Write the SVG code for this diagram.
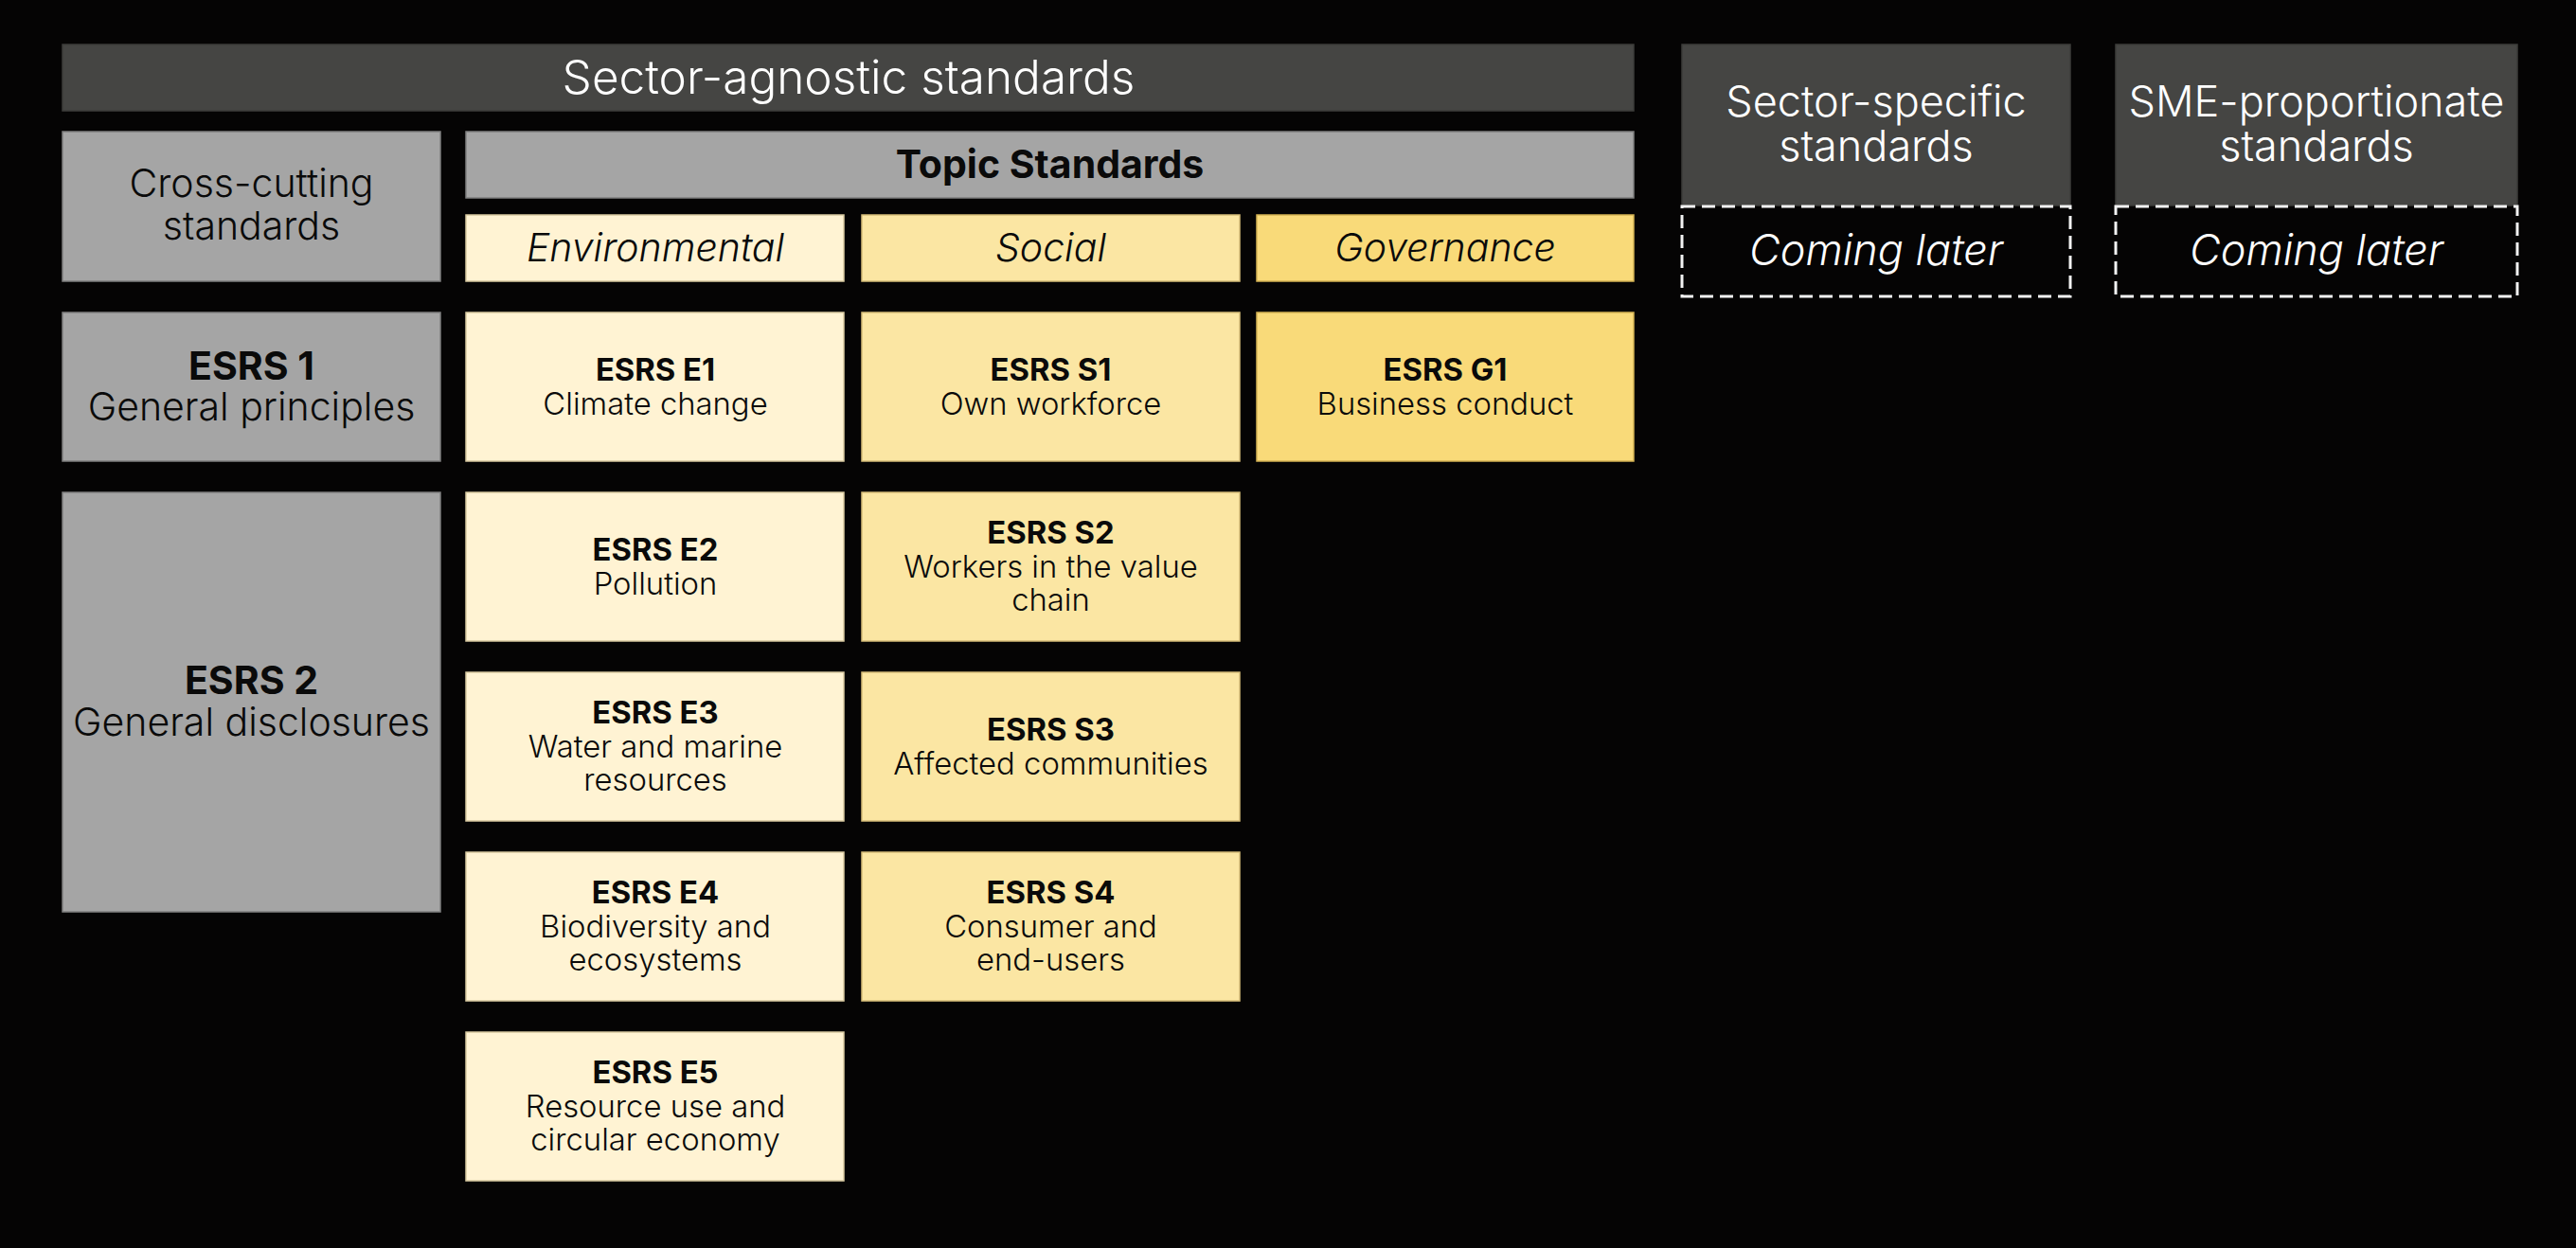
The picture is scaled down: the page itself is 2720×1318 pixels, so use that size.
<svg xmlns="http://www.w3.org/2000/svg" width="2720" height="1318" viewBox="0 0 2720 1318">
<style>
.bg{fill:#050404}
.dark{fill:#454543;stroke:#3c3c3a;stroke-width:1.5}
.grey{fill:#a5a5a5;stroke:#7f7f7f;stroke-width:1.5}
.env{fill:#fff3d3;stroke:#d8c9a0;stroke-width:1.5}
.soc{fill:#fbe6a3;stroke:#d6bd78;stroke-width:1.5}
.gov{fill:#f9da79;stroke:#d4b253;stroke-width:1.5}
.dash{fill:none;stroke:#f2f2f2;stroke-width:3;stroke-dasharray:14 7}
text{font-family:Inter,"Noto Sans","Liberation Sans",sans-serif;text-anchor:middle}
.w{fill:#ffffff;font-family:"Inter Light",Inter,"Noto Sans","Liberation Sans",sans-serif;font-weight:300}
.k{fill:#0a0a0a;font-family:"Inter Light",Inter,"Noto Sans","Liberation Sans",sans-serif;font-weight:300}
.b{font-family:Inter,"Noto Sans","Liberation Sans",sans-serif;font-weight:700}
.i{font-style:italic}
.f49{font-size:49.5px}
.f45{font-size:45px}
.f41{font-size:41px}
.f33{font-size:32.8px}
</style>
<rect class="bg" x="0" y="0" width="2720" height="1318"/>

<g id="sector-agnostic">
<rect class="dark" x="66" y="47" width="1659" height="70"/>
<text class="w f49" x="896" y="99">Sector-agnostic standards</text>
</g>

<g id="sector-specific">
<rect class="dark" x="1776" y="47" width="410" height="170"/>
<text class="w f45" x="1981" y="123">Sector-specific</text>
<text class="w f45" x="1981" y="170">standards</text>
</g>
<g id="sector-specific-later">
<rect class="dash" x="1776" y="218" width="410" height="95"/>
<text class="w f45 i" x="1981" y="280">Coming later</text>
</g>

<g id="sme">
<rect class="dark" x="2234" y="47" width="424" height="170"/>
<text class="w f45" x="2446" y="123">SME-proportionate</text>
<text class="w f45" x="2446" y="170">standards</text>
</g>
<g id="sme-later">
<rect class="dash" x="2234" y="218" width="424" height="95"/>
<text class="w f45 i" x="2446" y="280">Coming later</text>
</g>

<g id="cross-cutting">
<rect class="grey" x="66" y="139" width="399" height="158"/>
<text class="k f41" x="265.5" y="208">Cross-cutting</text>
<text class="k f41" x="265.5" y="253">standards</text>
</g>

<g id="topic-standards">
<rect class="grey" x="492" y="139" width="1233" height="70"/>
<text class="k f41 b" x="1108.5" y="188">Topic Standards</text>
</g>

<g id="environmental">
<rect class="env" x="492" y="227" width="399" height="70"/>
<text class="k f41 i" x="692" y="276">Environmental</text>
</g>
<g id="social">
<rect class="soc" x="910" y="227" width="399" height="70"/>
<text class="k f41 i" x="1109.5" y="276">Social</text>
</g>
<g id="governance">
<rect class="gov" x="1327" y="227" width="398" height="70"/>
<text class="k f41 i" x="1526" y="276">Governance</text>
</g>

<g id="esrs1">
<rect class="grey" x="66" y="330" width="399" height="157"/>
<text class="k f41 b" x="265.5" y="401">ESRS 1</text>
<text class="k f41" x="265.5" y="444">General principles</text>
</g>
<g id="esrs2">
<rect class="grey" x="66" y="520" width="399" height="443"/>
<text class="k f41 b" x="265.5" y="733">ESRS 2</text>
<text class="k f41" x="265.5" y="777">General disclosures</text>
</g>

<g id="esrs-e1">
<rect class="env" x="492" y="330" width="399" height="157"/>
<text class="k f33 b" x="692" y="402">ESRS E1</text>
<text class="k f33" x="692" y="438">Climate change</text>
</g>
<g id="esrs-e2">
<rect class="env" x="492" y="520" width="399" height="157"/>
<text class="k f33 b" x="692" y="592">ESRS E2</text>
<text class="k f33" x="692" y="628">Pollution</text>
</g>
<g id="esrs-e3">
<rect class="env" x="492" y="710" width="399" height="157"/>
<text class="k f33 b" x="692" y="764">ESRS E3</text>
<text class="k f33" x="692" y="800">Water and marine</text>
<text class="k f33" x="692" y="835">resources</text>
</g>
<g id="esrs-e4">
<rect class="env" x="492" y="900" width="399" height="157"/>
<text class="k f33 b" x="692" y="954">ESRS E4</text>
<text class="k f33" x="692" y="990">Biodiversity and</text>
<text class="k f33" x="692" y="1025">ecosystems</text>
</g>
<g id="esrs-e5">
<rect class="env" x="492" y="1090" width="399" height="157"/>
<text class="k f33 b" x="692" y="1144">ESRS E5</text>
<text class="k f33" x="692" y="1180">Resource use and</text>
<text class="k f33" x="692" y="1215">circular economy</text>
</g>

<g id="esrs-s1">
<rect class="soc" x="910" y="330" width="399" height="157"/>
<text class="k f33 b" x="1109.5" y="402">ESRS S1</text>
<text class="k f33" x="1109.5" y="438">Own workforce</text>
</g>
<g id="esrs-s2">
<rect class="soc" x="910" y="520" width="399" height="157"/>
<text class="k f33 b" x="1109.5" y="574">ESRS S2</text>
<text class="k f33" x="1109.5" y="610">Workers in the value</text>
<text class="k f33" x="1109.5" y="645">chain</text>
</g>
<g id="esrs-s3">
<rect class="soc" x="910" y="710" width="399" height="157"/>
<text class="k f33 b" x="1109.5" y="782">ESRS S3</text>
<text class="k f33" x="1109.5" y="818">Affected communities</text>
</g>
<g id="esrs-s4">
<rect class="soc" x="910" y="900" width="399" height="157"/>
<text class="k f33 b" x="1109.5" y="954">ESRS S4</text>
<text class="k f33" x="1109.5" y="990">Consumer and</text>
<text class="k f33" x="1109.5" y="1025">end-users</text>
</g>

<g id="esrs-g1">
<rect class="gov" x="1327" y="330" width="398" height="157"/>
<text class="k f33 b" x="1526" y="402">ESRS G1</text>
<text class="k f33" x="1526" y="438">Business conduct</text>
</g>

<g id="connectors"></g>
</svg>
